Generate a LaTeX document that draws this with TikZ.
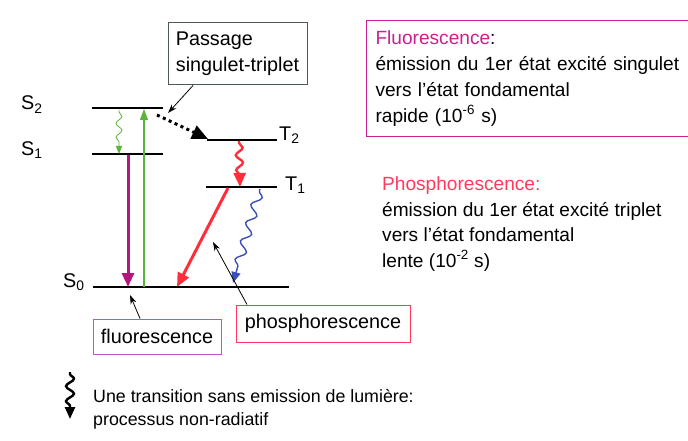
\documentclass[tikz,border=0pt]{standalone}
\usepackage{fontspec}
\setmainfont{Liberation Sans}
\usetikzlibrary{arrows.meta, decorations.pathmorphing, calc, positioning}
\definecolor{jbMagenta}{HTML}{B3177F}
\definecolor{jbPurple}{HTML}{C452C4}
\definecolor{jbTitle}{HTML}{CC1F8F}
\definecolor{jbRed}{HTML}{FF2E3A}
\definecolor{jbRose}{HTML}{FF3A5C}
\definecolor{jbGreen}{HTML}{5AB435}
\definecolor{jbBlue}{HTML}{3A4FB8}
\definecolor{jbGrey}{HTML}{4D5A52}
\tikzset{
  % one picture unit = one pixel of the scan
  level/.style     = {line width=2.6pt, black},
  lbl/.style       = {font=\fontsize{19.8}{25.7}\selectfont},
  rlbl/.style      = {font=\fontsize{19.1}{25.7}\selectfont},
  slbl/.style      = {font=\fontsize{17.8}{23}\selectfont},
  tag/.style       = {lbl, draw, line width=1pt, inner sep=0pt},
  pointer/.style   = {-{Stealth[length=9pt, width=6pt]}, line width=0.8pt, black},
  wavy/.style args = {#1/#2}{decorate, decoration={snake, amplitude=#1, segment length=#2,
                        pre length=2, post length=10}},
}

\begin{document}
\begin{tikzpicture}[x=1pt, y=-1pt,
    bigtip/.style={-{Triangle[length=14pt, width=12pt]}}]
  \useasboundingbox (0,0) rectangle (688,441);
  % energy levels
  \coordinate (S2l) at (92,108);  \coordinate (S2r) at (163,108);
  \coordinate (S1l) at (92,154);  \coordinate (S1r) at (163,154);
  \coordinate (S0l) at (93,287);  \coordinate (S0r) at (289,287);
  \coordinate (T2l) at (207,140); \coordinate (T2r) at (277,140);
  \coordinate (T1l) at (206,187); \coordinate (T1r) at (277,187);
  \foreach \lv in {S2,S1,S0,T2,T1}
    \draw[level] (\lv l) -- (\lv r);
  \node[lbl, anchor=base west, inner sep=0] (s2lbl) at (21,110) {S\textsubscript{2}};
  \node[lbl, anchor=base west, inner sep=0] (s1lbl) at (21,155.5) {S\textsubscript{1}};
  \node[lbl, anchor=base west, inner sep=0] (s0lbl) at (63,287.5) {S\textsubscript{0}};
  \node[lbl, anchor=base west, inner sep=0] (t2lbl) at (279,140.5) {T\textsubscript{2}};
  \node[lbl, anchor=base west, inner sep=0] (t1lbl) at (285,190) {T\textsubscript{1}};
  % transitions
  \coordinate (absA) at (144,287);  \coordinate (absB) at (144,109);
  \coordinate (icA) at (119,110);   \coordinate (icB) at (119,154);
  \coordinate (flA) at (128,155);   \coordinate (flB) at (128,287);
  \coordinate (iscA) at (157,115);  \coordinate (iscB) at (208,139);
  \coordinate (icTA) at (239,141);  \coordinate (icTB) at (240,187);
  \coordinate (phA) at (228,188);   \coordinate (phB) at (177,287);
  \coordinate (nrA) at (260,189);   \coordinate (nrB) at (233,283);
  \draw[-{Triangle[length=11pt, width=8pt]}, jbGreen, line width=1.2pt] (absA) -- (absB);
  \draw[-{Triangle[length=8pt, width=6pt]}, jbGreen, line width=0.8pt, wavy=3/14] (icA) -- (icB);
  \draw[bigtip, jbMagenta, line width=3pt] (flA) -- (flB);
  \draw[-{Triangle[length=16pt, width=14pt]}, line width=3pt, dash pattern=on 3pt off 3.5pt]
    (iscA) -- (iscB);
  \draw[bigtip, jbRed, line width=2.4pt, wavy=3.5/15] (icTA) -- (icTB);
  \draw[bigtip, jbRed, line width=3pt] (phA) -- (phB);
  \draw[-{Triangle[length=11pt, width=9pt]}, jbBlue, line width=1.4pt, wavy=4.5/19] (nrA) -- (nrB);
  % labels and their pointers
  \node[tag, draw=jbGrey, minimum width=139, minimum height=62, align=left] (passage)
    at (237.5,54) {Passage\\singulet-triplet};
  \node[tag, draw=jbPurple, minimum width=128, minimum height=35] (fluolbl)
    at (157,336.5) {fluorescence};
  \node[tag, draw=jbRose, minimum width=174, minimum height=37] (phoslbl)
    at (323,323.5) {phosphorescence};
  \coordinate (passTip) at (168,113);
  \coordinate (fluoTip) at (130,295);
  \coordinate (phosTip) at (213,242);
  \draw[pointer] ([xshift=-44.5]passage.south) -- (passTip);
  \draw[pointer] ([xshift=-17]fluolbl.north) -- (fluoTip);
  \draw[pointer] ([xshift=-76]phoslbl.north) -- (phosTip);
  % explanations on the right
  \node[rlbl, draw=jbTitle, line width=1.1pt, anchor=north west, inner xsep=9pt, inner ysep=0pt,
        text width=316, minimum height=116, align=left] (fluotext) at (366,20)
    {{\color{jbTitle}Fluorescence}:\\
     émission du 1er état excité singulet\\
     vers l’état fondamental\\
     rapide (10\textsuperscript{-6} s)};
  \node[rlbl, anchor=west, inner sep=0, align=left] (phostext) at (382,224)
    {{\color{jbRose}Phosphorescence:}\\
     émission du 1er état excité triplet\\
     vers l’état fondamental\\
     lente (10\textsuperscript{-2} s)};
  % legend
  \coordinate (legA) at (70,372); \coordinate (legB) at (70,419);
  \draw[-{Triangle[length=12pt, width=10pt]}, line width=2.4pt, wavy=4/15] (legA) -- (legB);
  \node[slbl, anchor=west, inner sep=0, align=left] (legtext) at (93,409.5)
    {Une transition sans emission de lumière:\\processus non-radiatif};
\end{tikzpicture}
\end{document}
